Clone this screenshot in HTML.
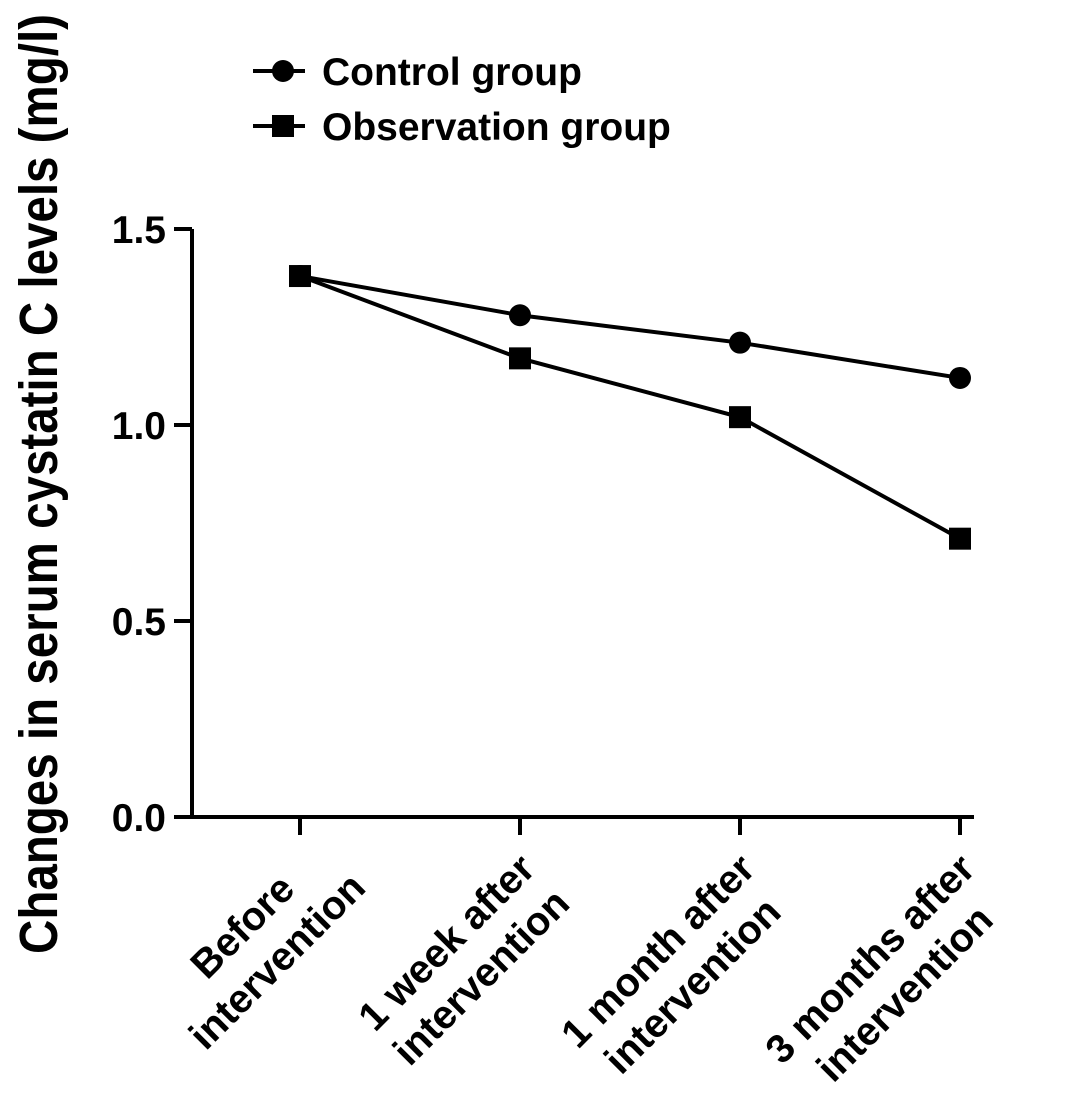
<!DOCTYPE html>
<html><head><meta charset="utf-8"><style>
html,body{margin:0;padding:0;background:#fff}
svg{display:block;font-family:"Liberation Sans",Arial,sans-serif;font-weight:bold}
</style></head><body>
<svg id="chart" width="1087" height="1117" viewBox="0 0 1087 1117" xmlns="http://www.w3.org/2000/svg">
<g id="axes"></g><g id="series"></g><g id="legend"></g>
</svg>
<script>
const categories = [["Before","intervention"],["1 week after","intervention"],["1 month after","intervention"],["3 months after","intervention"]];
const controlValues = [1.38, 1.28, 1.21, 1.12];
const observationValues = [1.38, 1.17, 1.02, 0.71];
const yTicks = [0, 0.5, 1.0, 1.5];
const yTickLabels = ["0.0","0.5","1.0","1.5"];
const NS="http://www.w3.org/2000/svg";
function y(v){return 817-(v/1.5)*588;}
function x(i){return 300+i*220;}
function mk(tag,attrs,parent){const e=document.createElementNS(NS,tag);for(const k in attrs)e.setAttribute(k,attrs[k]);parent.appendChild(e);return e;}
const axes=document.getElementById('axes'),series=document.getElementById('series'),legend=document.getElementById('legend');
let yl=mk('line',{x1:192,y1:y(1.5),x2:192,y2:819,stroke:'#000','stroke-width':4},axes);


let xl=mk('line',{x1:190,y1:817,x2:x(3)+14,y2:817,stroke:'#000','stroke-width':4},axes);


yTicks.forEach((t,i)=>{
  let tk=mk('line',{x1:174,y1:y(t),x2:192,y2:y(t),stroke:'#000','stroke-width':4},axes);
  
  
  let tl=mk('text',{x:166,y:y(t)+14,'text-anchor':'end','font-size':39},axes);
  tl.textContent=yTickLabels[i];
  
  
});
categories.forEach((c,i)=>{
  let tk=mk('line',{x1:x(i),y1:815,x2:x(i),y2:835,stroke:'#000','stroke-width':4},axes);
  
  
  let g=mk('g',{transform:`translate(${x(i)+17},871) rotate(-45)`,'font-size':40},axes);
  
  
  let t1=mk('text',{x:0,y:0,'text-anchor':'end'},g);t1.textContent=c[0];
  let t2=mk('text',{x:0,y:49,'text-anchor':'middle'},g);t2.textContent=c[1];
  const w1=t1.getComputedTextLength(), w2=t2.getComputedTextLength();
  const shift=-0.28*Math.max(0,w2-w1);
  t1.setAttribute('x',shift);
  t2.setAttribute('x',shift-w1/2);
});
let yt=mk('text',{transform:'translate(57,484) rotate(-90)','text-anchor':'middle','font-size':54,textLength:940,lengthAdjust:'spacingAndGlyphs'},axes);
yt.textContent='Changes in serum cystatin C levels (mg/l)';


function drawSeries(vals,shape,name){
  let pl=mk('polyline',{points:vals.map((v,i)=>x(i)+','+y(v)).join(' '),fill:'none',stroke:'#000','stroke-width':4},series);
  
  
  vals.forEach((v,i)=>{
    let m;
    if(shape==='circle') m=mk('circle',{cx:x(i),cy:y(v),r:11,fill:'#000'},series);
    else m=mk('rect',{x:x(i)-11,y:y(v)-11,width:22,height:22,fill:'#000'},series);
    
    
  });
}
drawSeries(controlValues,'circle','control-group');
drawSeries(observationValues,'square','observation-group');
[['Control group','circle',71],['Observation group','square',126]].forEach(([lab,shape,ly])=>{
  let g=mk('g',{},legend);
  
  
  mk('line',{x1:253,y1:ly,x2:305,y2:ly,stroke:'#000','stroke-width':4},g);
  if(shape==='circle') mk('circle',{cx:283,cy:ly,r:11,fill:'#000'},g);
  else mk('rect',{x:272,y:ly-11,width:22,height:22,fill:'#000'},g);
  let t=mk('text',{x:322,y:ly+14,'font-size':39},g);t.textContent=lab;
});
</script>
</body></html>
